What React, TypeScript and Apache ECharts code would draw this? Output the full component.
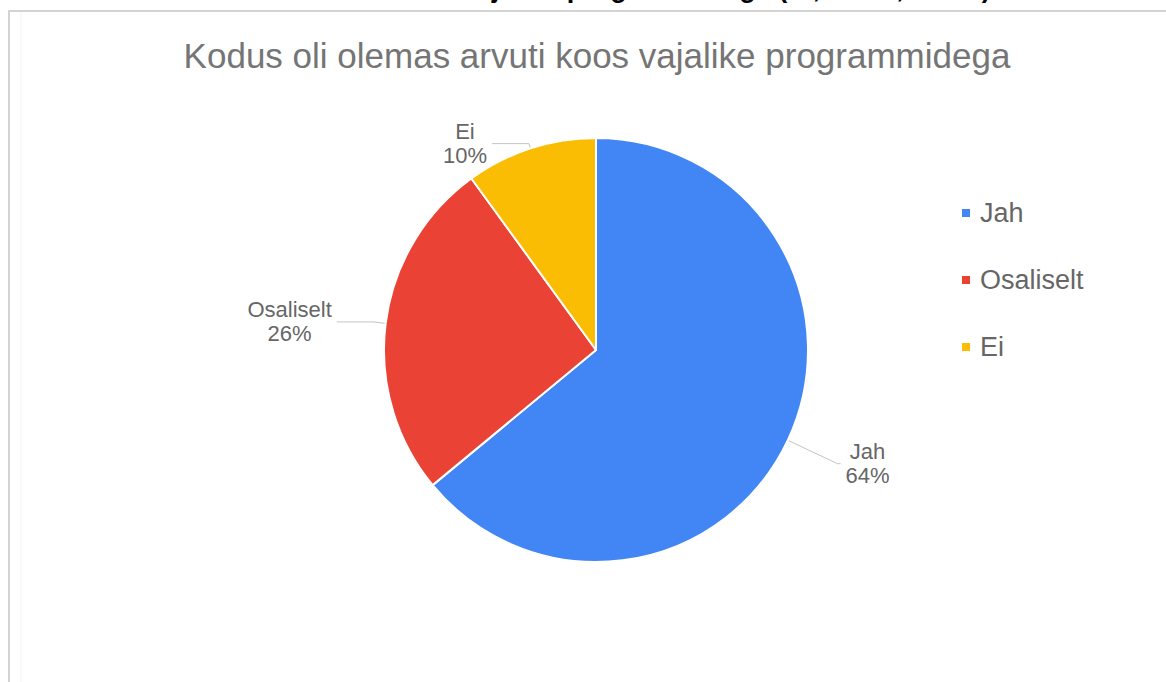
import React, { useEffect, useRef } from "react";
import * as echarts from "echarts";

const categories = ["Jah", "Osaliselt", "Ei"];
const values = [64, 26, 10];
const colors = ["#4285F4", "#EA4335", "#FBBC04"];
const chartTitle = "Kodus oli olemas arvuti koos vajalike programmidega";
const headingText = "Kodus oli olemas arvuti koos vajalike programmidega (nt, Word, Excel)";

// label line segment lengths per slice (style, not data)
const labelLineLengths: Record<string, [number, number]> = {
  Jah: [55, 3],
  Osaliselt: [12, 37],
  Ei: [5, 37],
};

export default function App() {
  const ref = useRef<HTMLDivElement>(null);
  useEffect(() => {
    if (!ref.current) return;
    const chart = echarts.init(ref.current, null, { renderer: "svg" });
    const font = "Liberation Sans, Arial, sans-serif";
    chart.setOption({
      animation: false,
      backgroundColor: "#ffffff",
      color: colors,
      title: {
        text: chartTitle,
        left: 592,
        top: 33,
        textAlign: "center",
        textStyle: { fontFamily: font, fontSize: 35, fontWeight: "normal", color: "#757575" },
      },
      legend: {
        orient: "vertical",
        left: 955,
        top: 193,
        itemWidth: 10,
        itemHeight: 10,
        itemGap: 37,
        icon: "rect",
        data: categories,
        textStyle: { fontFamily: font, fontSize: 27, color: "#666666", lineHeight: 30, padding: [0, 0, 0, 4] },
      },
      graphic: [
        {
          type: "rect",
          shape: { x: 9, y: 11, width: 1300, height: 800 },
          style: { fill: "none", stroke: "#d4d4d4", lineWidth: 2 },
          silent: true,
        },
        {
          type: "line",
          shape: { x1: 21, y1: 12, x2: 21, y2: 682 },
          style: { stroke: "#f4f4f4", lineWidth: 1 },
          silent: true,
        },
        {
          type: "text",
          x: 535,
          y: 1,
          style: {
            text: headingText,
            fontFamily: font,
            fontSize: 27,
            fontWeight: "bold",
            fill: "#000000",
            align: "center",
            verticalAlign: "bottom",
          },
          silent: true,
        },
      ],
      series: [
        {
          type: "pie",
          center: [596, 350],
          radius: 212,
          startAngle: 90,
          clockwise: true,
          avoidLabelOverlap: false,
          itemStyle: { borderColor: "#ffffff", borderWidth: 2 },
          label: {
            show: true,
            position: "outside",
            formatter: "{c|{b}}\n{c|{d}%}",
            fontFamily: font,
            color: "#666666",
            rich: { c: { fontFamily: font, fontSize: 22, color: "#666666", align: "center", lineHeight: 24 } },
          },
          labelLine: {
            show: true,
            length: 12,
            length2: 37,
            lineStyle: { color: "#c4c4c4", width: 1 },
          },
          emphasis: { disabled: true },
          data: categories.map((name, i) => ({
            name,
            value: values[i],
            labelLine: {
              length: labelLineLengths[name][0],
              length2: labelLineLengths[name][1],
            },
          })),
        },
      ],
    });
    return () => chart.dispose();
  }, []);
  return (
    <div
      ref={ref}
      style={{ position: "absolute", left: 0, top: 0, width: 1166, height: 682 }}
    />
  );
}
